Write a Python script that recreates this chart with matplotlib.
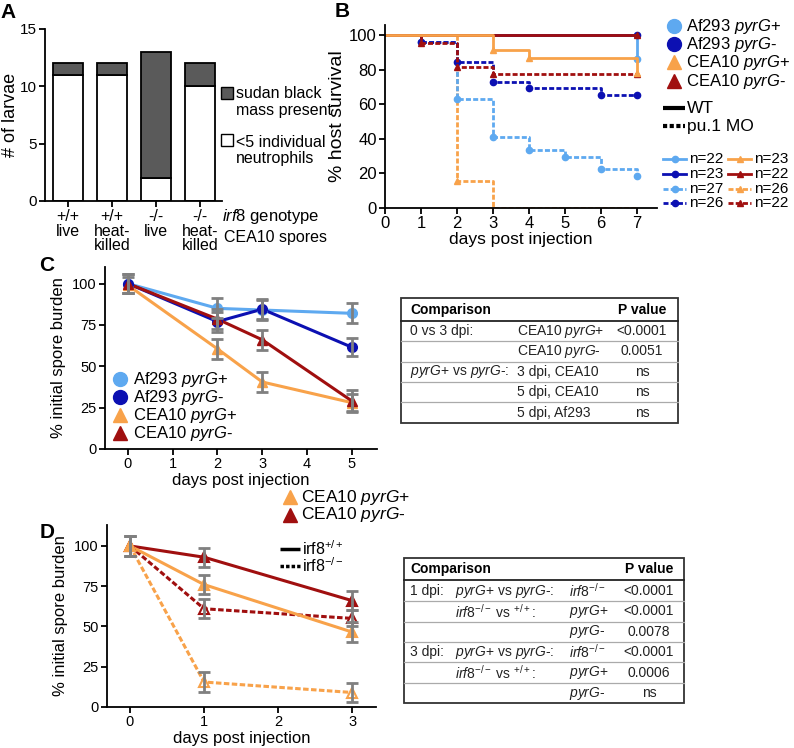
import matplotlib
matplotlib.use('Agg')
import matplotlib.pyplot as plt
from matplotlib.patches import Rectangle
import numpy as np

plt.rcParams['font.family'] = 'Liberation Sans'
plt.rcParams['mathtext.fontset'] = 'custom'
plt.rcParams['mathtext.rm'] = 'Liberation Sans'
plt.rcParams['mathtext.it'] = 'Liberation Sans:italic'
plt.rcParams['mathtext.bf'] = 'Liberation Sans:bold'
plt.rcParams['axes.linewidth'] = 1.3

LIGHTBLUE = '#5ea9f0'
DARKBLUE = '#0c10b2'
ORANGE = '#f8a24a'
DARKRED = '#a00f0f'
GREY = '#808080'

### Data ###

# Panel A: larvae counts
a_groups = ['+/+\nlive', '+/+\nheat-\nkilled', '-/-\nlive', '-/-\nheat-\nkilled']
a_neutro = [11, 11, 2, 10]
a_sudan = [1, 1, 11, 2]

# Panel B: survival (day of event, % surviving after it)
wt_af_pos_days, wt_af_pos_surv = [7], [86.4]
wt_af_neg_days, wt_af_neg_surv = [], []
wt_cea_pos_days, wt_cea_pos_surv = [3, 4, 7], [91.3, 87.0, 78.3]
wt_cea_neg_days, wt_cea_neg_surv = [], []
mo_af_pos_days, mo_af_pos_surv = [1, 2, 3, 4, 5, 6, 7], [96.3, 63.0, 40.7, 33.3, 29.6, 22.2, 18.5]
mo_af_neg_days, mo_af_neg_surv = [1, 2, 3, 4, 6], [96.2, 84.6, 73.1, 69.2, 65.4]
mo_cea_pos_days, mo_cea_pos_surv = [2, 3], [15.4, 0]
mo_cea_neg_days, mo_cea_neg_surv = [1, 2, 3], [95.5, 81.8, 77.3]

# Panel C: spore burden
c_days = [0, 2, 3, 5]
c_af_pos = [100, 85, 84, 82]
c_af_pos_err = [6, 6, 6, 6]
c_af_neg = [100, 77, 84.5, 61.5]
c_af_neg_err = [6, 6, 6, 5.5]
c_cea_pos = [99, 60.5, 40.5, 28]
c_cea_pos_err = [5, 6, 6, 5]
c_cea_neg = [100, 78.5, 66, 29]
c_cea_neg_err = [6, 6, 6, 6.5]

# Panel D: spore burden in irf8 larvae
d_days = [0, 1, 3]
d_pos_wt = [100, 76, 46.5]
d_pos_wt_err = [6, 6, 6]
d_neg_wt = [100, 93, 66]
d_neg_wt_err = [6, 6, 6]
d_pos_ko = [100, 15.5, 9]
d_pos_ko_err = [6, 6, 6]
d_neg_ko = [100, 61, 55]
d_neg_ko_err = [6, 6, 5]

# Tables
c_table = [['0 vs 3 dpi:', 'CEA10 $\\mathit{pyrG}$+', '<0.0001'],
           ['', 'CEA10 $\\mathit{pyrG}$-', '0.0051'],
           ['$\\mathit{pyrG}$+ vs $\\mathit{pyrG}$-:', '3 dpi, CEA10', 'ns'],
           ['', '5 dpi, CEA10', 'ns'],
           ['', '5 dpi, Af293', 'ns']]
d_table = [['1 dpi:', '$\\mathit{pyrG}$+ vs $\\mathit{pyrG}$-:', '$\\mathit{irf8}^{-/-}$', '<0.0001'],
           ['', '$\\mathit{irf8}^{-/-}$ vs ${}^{+/+}$:', '$\\mathit{pyrG}$+', '<0.0001'],
           ['', '', '$\\mathit{pyrG}$-', '0.0078'],
           ['3 dpi:', '$\\mathit{pyrG}$+ vs $\\mathit{pyrG}$-:', '$\\mathit{irf8}^{-/-}$', '<0.0001'],
           ['', '$\\mathit{irf8}^{-/-}$ vs ${}^{+/+}$:', '$\\mathit{pyrG}$+', '0.0006'],
           ['', '', '$\\mathit{pyrG}$-', 'ns']]

W, H = 794, 748
fig = plt.figure(figsize=(W / 100, H / 100), dpi=100)


def px_axes(x0, y0, x1, y1):
    return fig.add_axes([x0 / W, 1 - y1 / H, (x1 - x0) / W, (y1 - y0) / H])


def style(ax, size=10.5):
    ax.spines['top'].set_visible(False)
    ax.spines['right'].set_visible(False)
    ax.tick_params(direction='out', length=4, width=1.3, labelsize=size, pad=2)


# overlay for legends, tables, letters (pixel coordinates)
lay = fig.add_axes([0, 0, 1, 1])
lay.set_xlim(0, W)
lay.set_ylim(H, 0)
lay.axis('off')
lay.set_zorder(10)

### Panel A ###
axA = px_axes(45, 29, 222, 201)
style(axA, 11)
xa = np.arange(len(a_groups))
axA.bar(xa, a_neutro, width=0.68, color='white', edgecolor='black', linewidth=1.3)
axA.bar(xa, a_sudan, bottom=a_neutro, width=0.68, color='#5a5a5a', edgecolor='black', linewidth=1.3)
axA.set_xlim(-0.52, 3.5)
axA.set_ylim(0, 15)
axA.set_yticks([0, 5, 10, 15])
axA.set_xticks(xa)
axA.set_xticklabels(a_groups, linespacing=0.95, fontsize=11.5)
axA.set_ylabel('# of larvae', fontsize=13)
axA.yaxis.set_label_coords(-0.145, 0.5)

lay.plot(227, 93, 's', ms=8, mfc='#5a5a5a', mec='black', mew=1)
lay.plot(227, 140, 's', ms=8, mfc='white', mec='black', mew=1)
for y, t in [(93, 'sudan black'), (110, 'mass present'), (142, '<5 individual'), (158, 'neutrophils')]:
    lay.text(236, y, t, fontsize=11.5, va='center')
lay.text(222, 216, '$\\mathit{irf8}$ genotype', fontsize=12, va='center')
lay.text(224, 237, 'CEA10 spores', fontsize=11.5, va='center')

### Panel B ###
axB = px_axes(385, 25, 657, 207.5)
style(axB, 12)
dash = (0, (1.8, 0.8))


def km(ax, days, surv, color, marker, ls):
    x = [0] + days + [7]
    y = [100] + surv + [surv[-1] if surv else 100]
    ax.step(x, y, where='post', color=color, lw=2, ls=ls, solid_capstyle='butt')
    mx = [d for d, s in zip(days, surv) if s > 0]
    my = [s for s in surv if s > 0]
    if (not days or days[-1] < 7) and y[-1] > 0:
        mx.append(7)
        my.append(y[-1])
    ax.plot(mx, my, marker, color=color, ms=4.5, ls='none', clip_on=False)


km(axB, mo_cea_pos_days, mo_cea_pos_surv, ORANGE, '^', dash)
km(axB, mo_af_pos_days, mo_af_pos_surv, LIGHTBLUE, 'o', dash)
km(axB, mo_af_neg_days, mo_af_neg_surv, DARKBLUE, 'o', dash)
km(axB, mo_cea_neg_days, mo_cea_neg_surv, DARKRED, '^', dash)
km(axB, wt_af_pos_days, wt_af_pos_surv, LIGHTBLUE, 'o', '-')
km(axB, wt_af_neg_days, wt_af_neg_surv, DARKBLUE, 'o', '-')
km(axB, wt_cea_neg_days, wt_cea_neg_surv, DARKRED, '^', '-')
km(axB, wt_cea_pos_days, wt_cea_pos_surv, ORANGE, '^', '-')
axB.set_xlim(0, 7.55)
axB.set_ylim(0, 106)
axB.set_xticks(range(8))
axB.set_yticks([0, 20, 40, 60, 80, 100])
axB.set_xlabel('days post injection', fontsize=12.5, labelpad=1)
axB.set_ylabel('% host survival', fontsize=14, labelpad=2)

strains = [('Af293 $\\mathit{pyrG}$+', LIGHTBLUE, 'o'), ('Af293 $\\mathit{pyrG}$-', DARKBLUE, 'o'),
           ('CEA10 $\\mathit{pyrG}$+', ORANGE, '^'), ('CEA10 $\\mathit{pyrG}$-', DARKRED, '^')]
for y, (t, c, m) in zip([26, 44, 62, 81], strains):
    lay.plot(674, y, m, ms=10, color=c)
    lay.text(686, y, t, fontsize=12, va='center')
lay.plot([663, 685], [108, 108], color='black', lw=3, solid_capstyle='butt')
lay.text(687, 108, 'WT', fontsize=12.5, va='center')
lay.plot([663, 685], [126, 126], color='black', lw=3, ls=(0, (1.0, 0.6)))
lay.text(687, 126, 'pu.1 MO', fontsize=12.5, va='center')
small = [(159, 663, LIGHTBLUE, 'o', '-', 'n=22'), (159, 728, ORANGE, '^', '-', 'n=23'),
         (174, 663, DARKBLUE, 'o', '-', 'n=23'), (174, 728, DARKRED, '^', '-', 'n=22'),
         (189, 663, LIGHTBLUE, 'o', dash, 'n=27'), (189, 728, ORANGE, '^', dash, 'n=26'),
         (203, 663, DARKBLUE, 'o', dash, 'n=26'), (203, 728, DARKRED, '^', dash, 'n=22')]
for y, x, c, m, ls, t in small:
    lay.plot([x, x + 23], [y, y], color=c, lw=2, ls=ls)
    lay.plot(x + 11.5, y, m, color=c, ms=4.5)
    lay.text(x + 26, y, t, fontsize=11, va='center')

### Panel C ###
axC = px_axes(105, 267, 377, 449)
style(axC)
c_series = [(c_af_pos, c_af_pos_err, LIGHTBLUE, 'o'), (c_cea_pos, c_cea_pos_err, ORANGE, '^'),
            (c_af_neg, c_af_neg_err, DARKBLUE, 'o'), (c_cea_neg, c_cea_neg_err, DARKRED, '^')]
for vals, errs, c, m in c_series:
    axC.plot(c_days, vals, color=c, lw=2.2, zorder=2)
    axC.plot(c_days, vals, m, color=c, ms=7, zorder=3)
    axC.errorbar(c_days, vals, yerr=errs, fmt='none', ecolor=GREY, elinewidth=2,
                 capsize=4, capthick=2, zorder=4)
axC.set_xlim(-0.51, 5.56)
axC.set_ylim(0, 110)
axC.set_yticks([0, 25, 50, 75, 100])
axC.set_xticks(range(6))
axC.set_xlabel('days post injection', fontsize=12, labelpad=1)
axC.set_ylabel('% initial spore burden', fontsize=12)
for y, (t, c, m) in zip([379, 397, 415, 433], strains):
    lay.plot(120, y, m, ms=10, color=c)
    lay.text(133, y, t, fontsize=12, va='center')

### Panel D ###
axD = px_axes(107, 525, 376, 707)
style(axD)
d_series = [(d_neg_wt, d_neg_wt_err, DARKRED, '-', DARKRED), (d_neg_ko, d_neg_ko_err, DARKRED, dash, 'white'),
            (d_pos_ko, d_pos_ko_err, ORANGE, dash, 'white'), (d_pos_wt, d_pos_wt_err, ORANGE, '-', ORANGE)]
for vals, errs, c, ls, fc in d_series:
    axD.plot(d_days, vals, color=c, lw=2.2, ls=ls, zorder=2)
    axD.plot(d_days, vals, '^', mfc=fc, mec=c, mew=1.5, ms=7, zorder=3)
    axD.errorbar(d_days, vals, yerr=errs, fmt='none', ecolor=GREY, elinewidth=2,
                 capsize=4, capthick=2, zorder=4)
axD.set_xlim(-0.31, 3.32)
axD.set_ylim(0, 113)
axD.set_yticks([0, 25, 50, 75, 100])
axD.set_xticks(range(4))
axD.set_xlabel('days post injection', fontsize=12, labelpad=1)
axD.set_ylabel('% initial spore burden', fontsize=12)
for y, (t, c, m) in zip([497, 515], strains[2:]):
    lay.plot(290, y, m, ms=10, color=c)
    lay.text(301, y, t, fontsize=12.5, va='center')
lay.plot([280, 300], [549, 549], color='black', lw=2.5, solid_capstyle='butt')
lay.text(302, 549, 'irf8$^{+/+}$', fontsize=11.5, va='center')
lay.plot([280, 300], [566, 566], color='black', lw=2.5, ls=(0, (1.0, 0.6)))
lay.text(302, 566, 'irf8$^{-/-}$', fontsize=11.5, va='center')

### Tables ###


def draw_table(rows, x0, x1, top, head_y, line_y, row0, row_h, cols, pcol):
    nrow = len(rows)
    bottom = row0 + row_h * (nrow - 0.5)
    lay.add_patch(Rectangle((x0, top), x1 - x0, bottom - top, fill=False, lw=1.3, ec='#333333'))
    lay.plot([x0, x1], [line_y, line_y], color='#222222', lw=1.3)
    lay.text(cols[0], head_y, 'Comparison', fontsize=10, fontweight='bold', va='center')
    lay.text(pcol, head_y, 'P value', fontsize=10, fontweight='bold', va='center', ha='center')
    for i, row in enumerate(rows):
        y = row0 + i * row_h
        for x, t in zip(cols, row[:-1]):
            lay.text(x, y, t, fontsize=10, va='center', color='#222222')
        lay.text(pcol, y, row[-1], fontsize=10, va='center', ha='center', color='#222222')
        if i < nrow - 1:
            lay.plot([x0, x1], [y + row_h / 2, y + row_h / 2], color='#aaaaaa', lw=0.9)


draw_table(c_table, 401, 678, 298, 310, 320.5, 331, 20.4, [410, 517], 642)
draw_table(d_table, 404, 684, 558, 569, 580, 591, 20.4, [410, 455, 569], 649)

### Panel letters ###
for x, y, t in [(8, 12, 'A'), (342, 11, 'B'), (47, 265, 'C'), (47, 533, 'D')]:
    lay.text(x, y, t, fontsize=15, fontweight='bold', ha='center', va='center')

fig.savefig('out.png', dpi=100)
